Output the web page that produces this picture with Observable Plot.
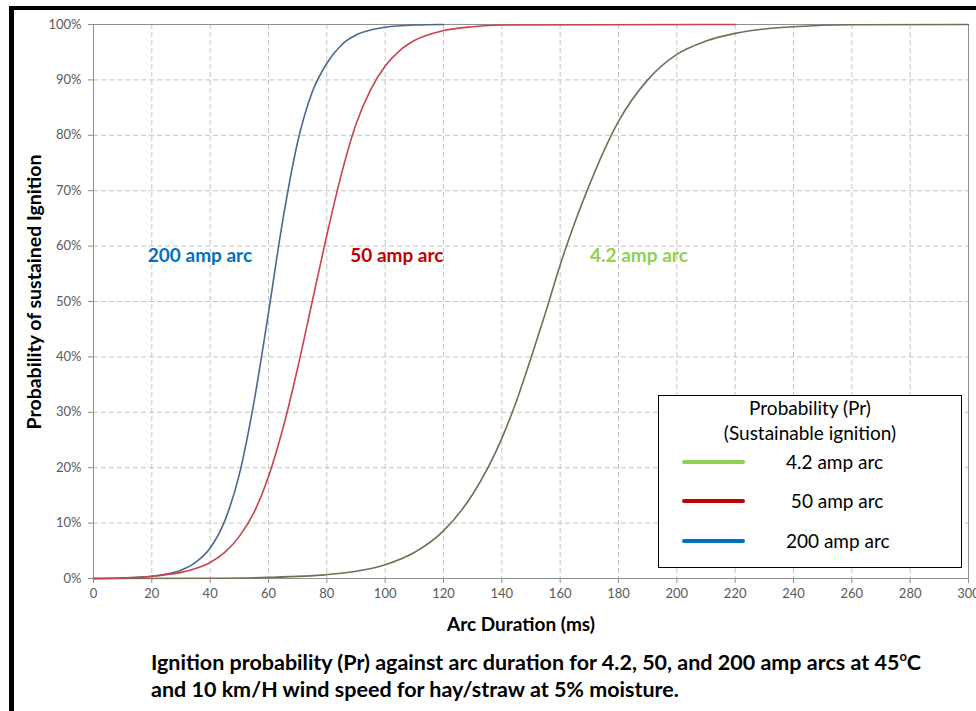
<!DOCTYPE html>
<html><head><meta charset="utf-8">
<script src="https://cdn.jsdelivr.net/npm/d3@7"></script>
<script src="https://cdn.jsdelivr.net/npm/@observablehq/plot@0.6"></script>
<style>
body{margin:0;background:#fff;}
#wrap{position:relative;width:976px;height:711px;overflow:hidden;font-family:Lato,"Open Sans",sans-serif;background:#fff;}
#chart{position:absolute;left:0;top:0;}
#frame{position:absolute;left:9px;top:6px;width:1000px;height:800px;border-top:4px solid #000;border-left:5px solid #000;pointer-events:none;}
#ytitle{position:absolute;left:33px;top:292px;transform:translate(-50%,-50%) rotate(-90deg);white-space:nowrap;font-weight:700;font-size:19.5px;color:#000;}
#xtitle{position:absolute;left:521px;top:623px;transform:translate(-50%,-50%);white-space:nowrap;font-weight:700;font-size:19px;color:#000;}
#caption{position:absolute;left:151px;top:649px;font-weight:700;font-size:21.5px;line-height:27px;color:#000;white-space:nowrap;}
#caption sup{font-size:13px;vertical-align:9px;line-height:0;}
#legend{position:absolute;left:658px;top:395px;width:304px;height:173px;border:1.5px solid #000;background:#fff;box-sizing:border-box;}
#legend .t{position:absolute;left:0;width:100%;text-align:center;font-size:19px;line-height:22px;color:#000;transform:translateY(-50%);}
#legend .sw{position:absolute;left:23px;width:63px;height:4px;border-radius:2px;}
#legend .lb{position:absolute;left:127px;font-size:19px;line-height:22px;color:#000;transform:translateY(-50%);white-space:pre;}
</style></head>
<body>
<div id="wrap">
  <div id="chart"></div>
  <div id="frame"></div>
  <div id="ytitle">Probability of sustained Ignition</div>
  <div id="xtitle">Arc Duration (ms)</div>
  <div id="caption">Ignition probability (Pr) against arc duration for 4.2, 50, and 200 amp arcs at 45<sup>o</sup>C<br>and 10 km/H wind speed for hay/straw at 5% moisture.</div>
  <div id="legend"></div>
</div>
<script>
// ---- data ----
const seriesNames = ["4.2 amp arc", "50 amp arc", "200 amp arc"];
const legendColors = ["#92d050", "#c00000", "#0070c0"];
const curveColors = ["#6e7158", "#c9434d", "#4a6890"];

const dur200  = [0, 10, 20, 25, 30, 35, 40, 45, 50, 55, 60, 65, 70, 75, 80, 85, 90, 95, 100, 110, 120];
const prob200 = [0, 0.1, 0.4, 0.8, 1.5, 2.9, 5.5, 10.4, 18.8, 31.8, 48, 65, 78.8, 87.8, 93, 96.3, 98.1, 99, 99.5, 99.9, 100];

const dur50   = [0, 10, 20, 25, 30, 35, 40, 45, 50, 55, 60, 65, 70, 75, 80, 85, 90, 95, 100, 105, 110, 120, 130, 140, 220];
const prob50  = [0, 0.1, 0.4, 0.7, 1.1, 1.8, 2.9, 4.7, 7.6, 11.9, 18.4, 27.2, 38, 50, 62, 73, 82, 88.2, 92.5, 95.3, 97.1, 98.9, 99.6, 99.9, 100];

const dur4    = [0, 40, 60, 80, 90, 100, 110, 120, 130, 140, 145, 150, 155, 160, 165, 170, 175, 180, 190, 200, 210, 220, 230, 240, 260, 300];
const prob4   = [0, 0.05, 0.2, 0.7, 1.3, 2.5, 4.7, 8.6, 15.2, 25.3, 32, 39.8, 48, 56.6, 64.2, 71, 77.2, 82.5, 90, 94.6, 97, 98.4, 99.2, 99.6, 99.95, 100];

const xTicks = [0, 20, 40, 60, 80, 100, 120, 140, 160, 180, 200, 220, 240, 260, 280, 300];
const yTicks = [0, 10, 20, 30, 40, 50, 60, 70, 80, 90, 100];

const labelX = [187, 104, 36.5];
const labelY = [58.2, 58.2, 58.2];

// ---- build tables ----
const toRows = (xs, ys, s) => xs.map((x, i) => ({x, y: ys[i], s}));
const rows4 = toRows(dur4, prob4, seriesNames[0]);
const rows50 = toRows(dur50, prob50, seriesNames[1]);
const rows200 = toRows(dur200, prob200, seriesNames[2]);
const labels = seriesNames.map((s, i) => ({x: labelX[i], y: labelY[i], text: s, color: legendColors[i]}));

const chart = Plot.plot({
  width: 976,
  height: 711,
  marginLeft: 93,
  marginRight: 8,
  marginTop: 24,
  marginBottom: 133,
  style: {fontFamily: "Lato, 'Open Sans', sans-serif", background: "transparent"},
  x: {domain: [0, 300]},
  y: {domain: [0, 100]},
  marks: [
    Plot.gridX(xTicks, {stroke: "#c4c4c4", strokeOpacity: 1, strokeDasharray: "5,3"}),
    Plot.gridY(yTicks, {stroke: "#c4c4c4", strokeOpacity: 1, strokeDasharray: "5,3"}),
    Plot.frame({stroke: "#8f8f8f"}),
    Plot.axisX(xTicks, {tickSize: 5, tickPadding: 5, fontSize: 13, color: "#5a5a5a", stroke: "#8f8f8f", label: null}),
    Plot.axisY(yTicks, {tickSize: 5, tickPadding: 7, fontSize: 13, color: "#5a5a5a", stroke: "#8f8f8f", label: null, tickFormat: d => d + "%"}),
    Plot.line(rows4, {x: "x", y: "y", stroke: curveColors[0], strokeWidth: 1.6, curve: "monotone-x"}),
    Plot.line(rows200, {x: "x", y: "y", stroke: curveColors[2], strokeWidth: 1.6, curve: "monotone-x"}),
    Plot.line(rows50, {x: "x", y: "y", stroke: curveColors[1], strokeWidth: 1.6, curve: "monotone-x"}),
    Plot.text(labels, {x: "x", y: "y", text: "text", fill: "color", fontWeight: "bold", fontSize: 19})
  ]
});
document.getElementById("chart").appendChild(chart);

// ---- legend ----
const lg = document.getElementById("legend");
const addT = (txt, top) => { const d = document.createElement("div"); d.className = "t"; d.style.top = top + "px"; d.textContent = txt; lg.appendChild(d); };
addT("Probability (Pr)", 12);
addT("(Sustainable ignition)", 37);
const legendLabels = ["4.2 amp arc", " 50 amp arc", "200 amp arc"];
const rowTops = [66, 105, 145];
seriesNames.forEach((s, i) => {
  const sw = document.createElement("div"); sw.className = "sw";
  sw.style.top = (rowTops[i] - 2) + "px"; sw.style.background = legendColors[i]; lg.appendChild(sw);
  const lb = document.createElement("div"); lb.className = "lb";
  lb.style.top = rowTops[i] + "px"; lb.textContent = legendLabels[i]; lg.appendChild(lb);
});
</script>
</body></html>
